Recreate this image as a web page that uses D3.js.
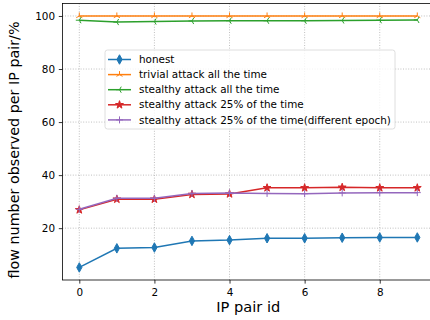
<!DOCTYPE html>
<html>
<head>
<meta charset="utf-8">
<script src="https://cdn.jsdelivr.net/npm/d3@7"></script>
<style>
  body { margin: 0; background: #fff; }
  svg { font-family: 'DejaVu Sans', sans-serif; }
</style>
</head>
<body>
<div id="chart"></div>
<script>
const ipPairs = [0, 1, 2, 3, 4, 5, 6, 7, 8, 9]
const xTicks = [0, 2, 4, 6, 8]
const yTicks = [20, 40, 60, 80, 100]

const honest = [5.2, 12.4, 12.7, 15.2, 15.5, 16.2, 16.2, 16.4, 16.5, 16.5]
const trivialAll = [100, 100, 100, 100, 100, 100, 100, 100, 100, 100]
const stealthyAll = [98.4, 97.7, 97.9, 98.1, 98.2, 98.2, 98.2, 98.3, 98.4, 98.5]
const stealthy25 = [26.9, 30.9, 30.9, 32.7, 32.9, 35.2, 35.2, 35.4, 35.2, 35.2]
const stealthy25Epoch = [27.1, 31.3, 31.3, 33.1, 33.3, 33.1, 33.0, 33.3, 33.4, 33.4]

const seriesNames = [
  'honest',
  'trivial attack all the time',
  'stealthy attack all the time',
  'stealthy attack 25% of the time',
  'stealthy attack 25% of the time(different epoch)'
]
const seriesValues = [honest, trivialAll, stealthyAll, stealthy25, stealthy25Epoch]
const colors = ['#1f77b4', '#ff7f0e', '#2ca02c', '#d62728', '#9467bd']
const markers = ['thin_diamond', 'tri_up', 'tri_left', 'star', 'plus']

const W = 430, H = 320
const plot = { left: 62.4, right: 434.2, top: 3.4, bottom: 280 }

const svg = d3.select('#chart').append('svg')
  .attr('width', W).attr('height', H)

// matplotlib-like 5% margins
const xScale = d3.scaleLinear().domain([-0.45, 9.45]).range([plot.left, plot.right])
const yMin = d3.min(seriesValues.flat()), yMax = d3.max(seriesValues.flat())
const pad = (yMax - yMin) * 0.05
const yScale = d3.scaleLinear().domain([yMin - pad, yMax + pad]).range([plot.bottom, plot.top])

// grid
svg.append('g').selectAll('line').data(xTicks).join('line')
  .attr('x1', d => xScale(d)).attr('x2', d => xScale(d))
  .attr('y1', plot.top).attr('y2', plot.bottom)
  .attr('stroke', '#b0b0b0').attr('stroke-width', 0.8).attr('stroke-dasharray', '1,1.6')
svg.append('g').selectAll('line').data(yTicks).join('line')
  .attr('y1', d => yScale(d)).attr('y2', d => yScale(d))
  .attr('x1', plot.left).attr('x2', plot.right)
  .attr('stroke', '#b0b0b0').attr('stroke-width', 0.8).attr('stroke-dasharray', '1,1.6')

// axes
const xAxis = d3.axisBottom(xScale).tickValues(xTicks).tickSize(3.6).tickPadding(5)
svg.append('g').attr('transform', `translate(0,${plot.bottom})`).call(xAxis)
const yAxis = d3.axisLeft(yScale).tickValues(yTicks).tickSize(3.6).tickPadding(3.8)
svg.append('g').attr('transform', `translate(${plot.left},0)`).call(yAxis)
svg.selectAll('.domain').remove()
svg.selectAll('.tick line').attr('stroke', '#000').attr('stroke-width', 0.8)
svg.selectAll('.tick text').attr('font-size', 10.4).attr('fill', '#000')
  .attr('font-family', 'DejaVu Sans')

// spines
svg.append('rect')
  .attr('x', plot.left).attr('y', plot.top)
  .attr('width', plot.right - plot.left).attr('height', plot.bottom - plot.top)
  .attr('fill', 'none').attr('stroke', '#000').attr('stroke-width', 0.8)

// marker shapes
function markerPath (type, s) {
  const h = s / 2
  switch (type) {
    case 'thin_diamond': return `M0,${-h}L${h * 0.55},0L0,${h}L${-h * 0.55},0Z`
    case 'tri_up': return `M0,0L0,${-h}M0,0L${h * 0.87},${h * 0.5}M0,0L${-h * 0.87},${h * 0.5}`
    case 'tri_left': return `M0,0L${-h},0M0,0L${h * 0.5},${-h * 0.87}M0,0L${h * 0.5},${h * 0.87}`
    case 'plus': return `M${-h},0L${h},0M0,${-h}L0,${h}`
    case 'star': return d3.symbol(d3.symbolStar, s * s * 0.3)()
  }
}
const markerSizes = { thin_diamond: 9.5, tri_up: 7, tri_left: 7, star: 8, plus: 7 }
const isFilled = m => m === 'thin_diamond' || m === 'star'

const line = d3.line().x((d, i) => xScale(ipPairs[i])).y(d => yScale(d))

const series = svg.append('g')
seriesValues.forEach((vals, k) => {
  const g = series.append('g')
  const m = markers[k]
  g.append('path').datum(vals).attr('d', line)
    .attr('fill', 'none').attr('stroke', colors[k]).attr('stroke-width', 1.5)
  g.selectAll('path.m').data(vals).join('path').attr('class', 'm')
    .attr('transform', (d, i) => `translate(${xScale(ipPairs[i])},${yScale(d)})`)
    .attr('d', markerPath(m, markerSizes[m]))
    .attr('fill', isFilled(m) ? colors[k] : 'none')
    .attr('stroke', colors[k]).attr('stroke-width', 1)
})

// legend
const legend = svg.append('g').attr('transform', 'translate(105,50)')
legend.append('rect').attr('width', 290).attr('height', 79).attr('rx', 2.5)
  .attr('fill', '#fff').attr('fill-opacity', 0.8)
  .attr('stroke', '#d5d5d5').attr('stroke-width', 0.8)
seriesNames.forEach((name, k) => {
  const y = 9.5 + k * 15.1
  const m = markers[k]
  legend.append('line').attr('x1', 3).attr('x2', 26).attr('y1', y).attr('y2', y)
    .attr('stroke', colors[k]).attr('stroke-width', 1.5)
  legend.append('path').attr('transform', `translate(14.5,${y})`)
    .attr('d', markerPath(m, markerSizes[m]))
    .attr('fill', isFilled(m) ? colors[k] : 'none')
    .attr('stroke', colors[k]).attr('stroke-width', 1)
  legend.append('text').attr('x', 34).attr('y', y).attr('dy', '0.35em')
    .attr('font-size', 10.4).attr('fill', '#000').text(name)
})

// axis labels
svg.append('text').attr('x', (plot.left + plot.right) / 2).attr('y', 312)
  .attr('text-anchor', 'middle').attr('font-size', 14.6).text('IP pair id')
svg.append('text')
  .attr('transform', 'translate(19,150) rotate(-90)')
  .attr('text-anchor', 'middle').attr('font-size', 14.3)
  .text('flow number observed per IP pair/%')
</script>
</body>
</html>
